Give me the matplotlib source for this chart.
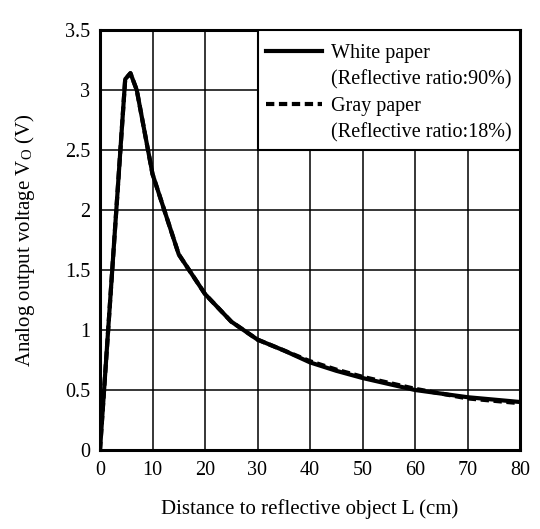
import numpy as np
import matplotlib
matplotlib.use("Agg")
import matplotlib.pyplot as plt
from matplotlib.patches import Rectangle
from matplotlib.lines import Line2D

plt.rcParams['font.family'] = ['Liberation Serif', 'DejaVu Serif']
plt.rcParams['mathtext.fontset'] = 'stix'

# donnees
dist_white = [0, 4.8, 5.8, 7, 10, 15, 20, 25, 30, 35, 40, 45, 50, 55, 60, 65, 70, 75, 80]
volt_white = [0, 3.09, 3.14, 3.0, 2.3, 1.63, 1.3, 1.07, 0.92, 0.83, 0.73, 0.66, 0.60, 0.55, 0.50, 0.47, 0.44, 0.42, 0.40]

dist_gray = [0, 4.8, 5.8, 7, 10, 15, 20, 25, 30, 35, 40, 45, 50, 55, 60, 65, 70, 75, 80]
volt_gray = [0, 3.09, 3.14, 3.0, 2.3, 1.63, 1.3, 1.07, 0.92, 0.83, 0.74, 0.67, 0.61, 0.56, 0.51, 0.47, 0.43, 0.41, 0.39]

x_ticks = [0, 10, 20, 30, 40, 50, 60, 70, 80]
y_ticks = [0, 0.5, 1, 1.5, 2, 2.5, 3, 3.5]
y_labels = ['0', '0.5', '1', '1.5', '2', '2.5', '3', '3.5']

fig = plt.figure(figsize=(5.4, 5.29), dpi=100)
ax = fig.add_axes([100/540, 79/529, 420/540, 420/529])

l_gray, = ax.plot(dist_gray, volt_gray, color='black', lw=3, ls=(0, (2, 1.1)), zorder=3)
l_white, = ax.plot(dist_white, volt_white, color='black', lw=3, zorder=4)

ax.set_xlim(0, 80)
ax.set_ylim(0, 3.5)
ax.set_xticks(x_ticks)
ax.set_yticks(y_ticks)
ax.set_yticklabels(y_labels)
ax.tick_params(length=0, labelsize=14.5, pad=8)
ax.tick_params(axis='y', pad=7)
ax.grid(True, color='black', lw=1.1)
ax.set_axisbelow(True)
for s in ax.spines.values():
    s.set_linewidth(2.2)

ax.set_xlabel('Distance to reflective object L (cm)', fontsize=15, labelpad=14)
ax.set_ylabel(r'Analog output voltage V$_{\mathregular{O}}$ (V)', fontsize=15, labelpad=20)

# cadre de la legende (cache la grille)
box = Rectangle((30/80, 2.5/3.5), 50/80, 1/3.5, transform=ax.transAxes,
                facecolor='white', edgecolor='black', lw=1.5, zorder=5)
ax.add_patch(box)

vide = Line2D([], [], color='none')
handles = [l_white, vide, l_gray, vide]
labels = ['White paper', '(Reflective ratio:90%)', 'Gray paper', '(Reflective ratio:18%)']
leg = ax.legend(handles, labels, loc='upper left', bbox_to_anchor=(30/80, 1 - 6/420),
                frameon=False, fontsize=14.5, handlelength=2.8, handletextpad=0.45,
                labelspacing=0.36, borderaxespad=0)
leg.set_zorder(6)

fig.savefig('out.png', dpi=100)
